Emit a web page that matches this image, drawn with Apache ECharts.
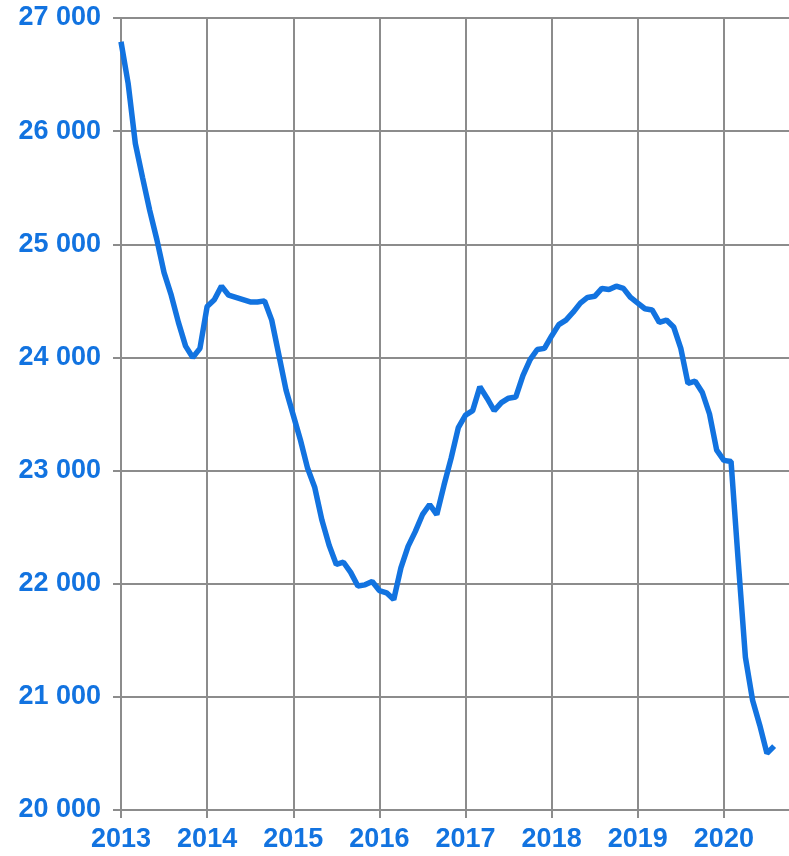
<!DOCTYPE html>
<html>
<head>
<meta charset="utf-8">
<script src="https://cdn.jsdelivr.net/npm/echarts@6/dist/echarts.min.js"></script>
<style>
  html, body { margin: 0; padding: 0; background: #fff; overflow: hidden; }
  #chart { width: 789px; height: 856px; }
</style>
</head>
<body>
<div id="chart"></div>
<script>
// monthly values, Jan 2013 .. Aug 2020
const startYear = 2013
const values = [
  26790, 26420, 25890, 25590, 25300, 25040, 24750, 24550, 24310, 24100, 24000, 24080,
  24450, 24510, 24630, 24550, 24530, 24510, 24490, 24490, 24500, 24330, 24020, 23710,
  23490, 23270, 23020, 22850, 22560, 22340, 22170, 22190, 22100, 21980, 21990, 22020,
  21940, 21920, 21860, 22140, 22330, 22460, 22610, 22700, 22610, 22870, 23110, 23380,
  23490, 23530, 23740, 23640, 23530, 23600, 23640, 23650, 23840, 23980, 24070, 24080,
  24190, 24290, 24330, 24400, 24480, 24530, 24540, 24610, 24600, 24630, 24610, 24530,
  24480, 24430, 24420, 24310, 24330, 24270, 24080, 23770, 23790, 23690, 23500, 23180,
  23090, 23080, 22200, 21350, 20970, 20750, 20500, 20565
]
const yearTicks = [2013, 2014, 2015, 2016, 2017, 2018, 2019, 2020]

const blue = '#1273e0'
const grey = '#8c8c8c'

const points = values.map( ( v, i ) => [startYear + i / 12, v] )

const chart = echarts.init( document.getElementById( 'chart' ) )

chart.setOption( {
  animation : false,
  grid : {
    left : 121,
    width : 689,
    top : 18,
    bottom : 46,
    containLabel : false,
    outerBoundsMode : 'none'
  },
  xAxis : {
    type : 'value',
    min : 2013,
    max : 2021,
    interval : 1,
    axisLine : { show : true, lineStyle : { color : grey, width : 2 }},
    axisTick : { show : true, length : 8, lineStyle : { color : grey, width : 2 }},
    splitLine : { show : true, lineStyle : { color : grey, width : 2 }},
    axisLabel : {
      margin : 16,
      color : blue,
      fontFamily : 'Liberation Sans',
      fontWeight : 'bold',
      fontSize : 27,
      formatter : v => yearTicks.includes( v ) ? String( v ) : ''
    }
  },
  yAxis : {
    type : 'value',
    min : 20000,
    max : 27000,
    interval : 1000,
    axisLine : { show : true, lineStyle : { color : grey, width : 2 }},
    axisTick : { show : true, length : 8, lineStyle : { color : grey, width : 2 }},
    splitLine : { show : true, lineStyle : { color : grey, width : 2 }},
    axisLabel : {
      margin : 20,
      color : blue,
      fontFamily : 'Liberation Sans',
      fontWeight : 'bold',
      fontSize : 27,
      formatter : v => String( v ).replace( /\B(?=(\d{3})+(?!\d))/g, ' ' )
    }
  },
  series : [
    {
      type : 'line',
      data : points,
      showSymbol : false,
      lineStyle : { color : blue, width : 5.5 },
      clip : false
    }
  ]
} )
</script>
</body>
</html>
